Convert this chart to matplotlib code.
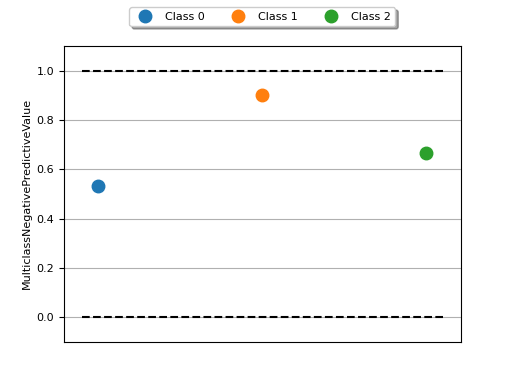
import matplotlib
matplotlib.use("Agg")
import matplotlib.pyplot as plt

classes = ["Class 0", "Class 1", "Class 2"]
values = [0.5325, 0.902, 0.6667]
colors = ["#1f77b4", "#ff7f0e", "#2ca02c"]
bounds = [0.0, 1.0]

plt.rcParams['font.size'] = 8
fig, ax = plt.subplots(figsize=(5.12, 3.84), dpi=100)
for i, (c, v, col) in enumerate(zip(classes, values, colors)):
    ax.plot([i], [v], 'o', color=col, markersize=9, label=c)
for b in bounds:
    ax.hlines(b, -0.1, len(classes) - 1 + 0.1, colors='black', linestyles='dashed', linewidth=1.5)
ax.set_ylim(-0.1, 1.1)
ax.set_xticks([])
ax.yaxis.grid(True, color='#b0b0b0', linewidth=0.8)
ax.set_axisbelow(True)
ax.set_ylabel("MulticlassNegativePredictiveValue", labelpad=3)
ax.legend(loc='upper center', bbox_to_anchor=(0.5, 1.15), ncol=3, shadow=True, fancybox=True)
fig.savefig("out.png", dpi=100)
